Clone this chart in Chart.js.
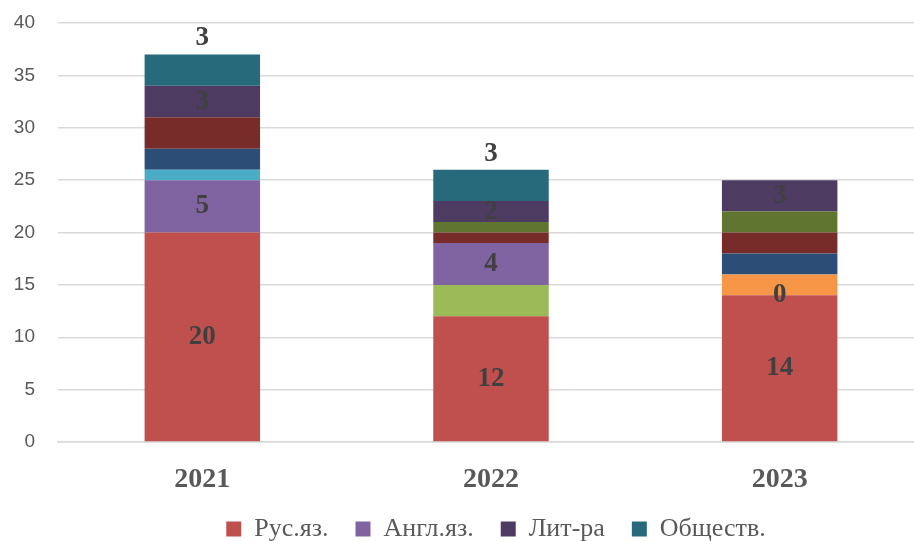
<!DOCTYPE html>
<html>
<head>
<meta charset="utf-8">
<script src="https://cdn.jsdelivr.net/npm/chart.js@4.4.0/dist/chart.umd.min.js"></script>
<style>
  body { margin: 0; background: #fff; }
  #wrap { width: 914px; height: 541px; overflow: hidden; position: relative; }
  #box { width: 924px; height: 552px; position: absolute; left: 0; top: 0; }
</style>
</head>
<body>
<div id="wrap"><div id="box"><canvas id="chart"></canvas></div></div>
<script>
// Годы и значения по сериям (снизу вверх в стопке)
const years = ["2021", "2022", "2023"];
const rus = [20, 12, 14];
const row2 = [0, 3, 0];
const angl = [5, 4, 0];
const row4 = [1, 0, 0];
const row5 = [0, 0, 2];
const row6 = [2, 0, 2];
const row7 = [3, 1, 2];
const row8 = [0, 1, 2];
const litra = [3, 2, 3];
const obsh = [3, 3, null];
const yTicks = [0, 5, 10, 15, 20, 25, 30, 35, 40];

const legendNames = ["Рус.яз.", "Англ.яз.", "Лит-ра", "Обществ."];

const series = [
    { label: "Рус.яз.", data: rus, color: "#C0504D", mark: "center" },
    { label: "Ряд2", data: row2, color: "#9BBB59" },
    { label: "Англ.яз.", data: angl, color: "#8064A2", mark: "center" },
    { label: "Ряд4", data: row4, color: "#4BACC6" },
    { label: "Ряд5", data: row5, color: "#F79646" },
    { label: "Ряд6", data: row6, color: "#2C4D75" },
    { label: "Ряд7", data: row7, color: "#772C2A" },
    { label: "Ряд8", data: row8, color: "#5F7530" },
    { label: "Лит-ра", data: litra, color: "#4D3B62", mark: "center" },
    { label: "Обществ.", data: obsh, color: "#276A7C", mark: "top" }
];

// подписи значений на столбцах
const valueLabels = {
    id: "valueLabels",
    afterLayout(chart) {
        // легенда чуть правее центра, как в оригинале
        chart.legend.left += 5;
        chart.legend.right += 5;
    },
    afterDatasetsDraw(chart) {
        const ctx = chart.ctx;
        ctx.save();
        ctx.font = "bold 27px 'Liberation Serif'";
        ctx.fillStyle = "#404040";
        ctx.textAlign = "center";
        ctx.textBaseline = "middle";
        series.forEach((s, i) => {
            if (!s.mark) return;
            chart.getDatasetMeta(i).data.forEach((el, j) => {
                const v = s.data[j];
                if (v === null) return;
                const y = s.mark === "top" ? el.y - 16 : (el.y + el.base) / 2;
                ctx.fillText(String(v), el.x, y);
            });
        });
        ctx.restore();
    }
};

new Chart(document.getElementById("chart"), {
    type: "bar",
    data: {
        labels: years,
        datasets: series.map(s => ({
            label: s.label,
            data: s.data,
            backgroundColor: s.color,
            borderWidth: 0,
            categoryPercentage: 1,
            barPercentage: 0.4
        }))
    },
    options: {
        responsive: true,
        maintainAspectRatio: false,
        animation: false,
        layout: { padding: { top: 0, left: 14, right: 0, bottom: 0 } },
        scales: {
            x: {
                stacked: true,
                afterFit(axis) { axis.height = 47; },
                grid: { display: false, drawTicks: false },
                border: { color: "#D9D9D9", width: 1.5 },
                ticks: {
                    padding: 21,
                    color: "#595959",
                    font: { family: "'Liberation Serif'", size: 28, weight: "bold" }
                }
            },
            y: {
                stacked: true,
                min: 0,
                max: 40,
                afterFit(axis) {
                    axis.width = 44;
                    axis.paddingTop = 23;
                    axis.paddingBottom = 11;
                },
                afterBuildTicks(axis) {
                    axis.ticks = yTicks.map(v => ({ value: v }));
                },
                grid: { color: "#D9D9D9", lineWidth: 1.5, drawTicks: false },
                border: { display: false },
                ticks: {
                    padding: 23,
                    color: "#595959",
                    font: { family: "'Liberation Sans'", size: 19 }
                }
            }
        },
        plugins: {
            legend: {
                position: "bottom",
                fullSize: false,
                labels: {
                    boxWidth: 15,
                    boxHeight: 15,
                    padding: 27,
                    color: "#595959",
                    font: { family: "'Liberation Serif'", size: 26 },
                    filter: item => legendNames.includes(item.text)
                }
            },
            tooltip: { enabled: true }
        }
    },
    plugins: [valueLabels]
});
</script>
</body>
</html>
